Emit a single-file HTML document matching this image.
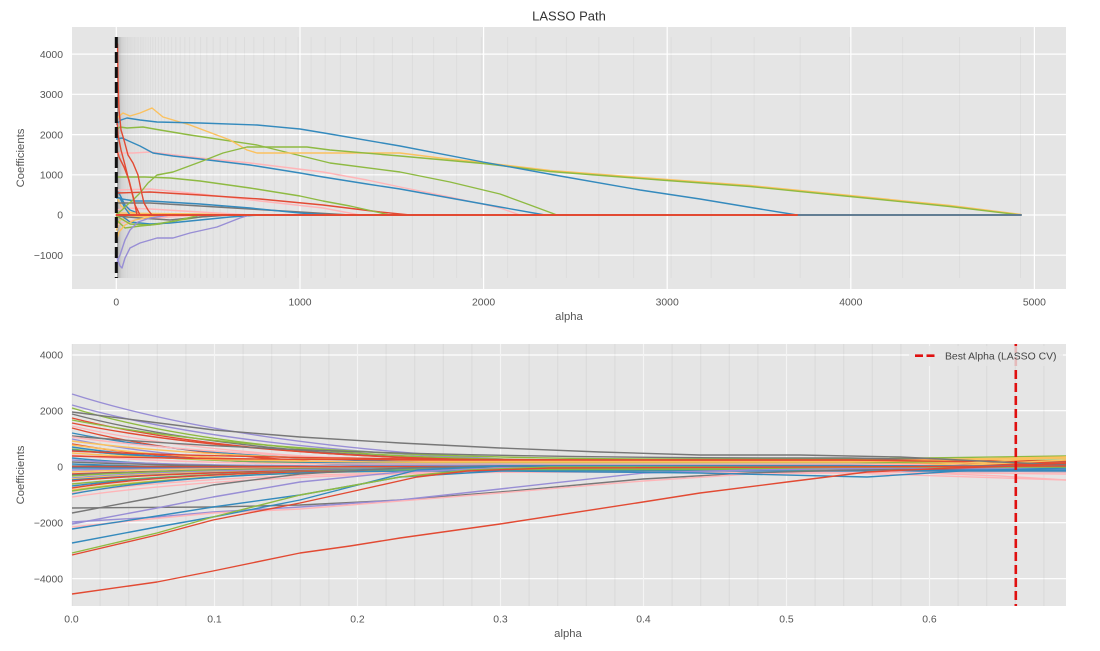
<!DOCTYPE html>
<html><head><meta charset="utf-8"><style>
html,body{margin:0;padding:0;background:#fff;}
svg{display:block;}
text{font-family:"Liberation Sans","DejaVu Sans",sans-serif;}
</style></head><body>
<svg width="1100" height="651" viewBox="0 0 1100 651" xmlns="http://www.w3.org/2000/svg">
<rect width="1100" height="651" fill="#fff"/>

<!-- ============ TOP AXES ============ -->
<rect x="72" y="27" width="994" height="262" fill="#E5E5E5"/>
<g stroke="#fff" stroke-width="1.2">
<line x1="72" x2="1066" y1="54.1" y2="54.1"/>
<line x1="72" x2="1066" y1="94.3" y2="94.3"/>
<line x1="72" x2="1066" y1="134.6" y2="134.6"/>
<line x1="72" x2="1066" y1="174.8" y2="174.8"/>
<line x1="72" x2="1066" y1="215" y2="215"/>
<line x1="72" x2="1066" y1="255.2" y2="255.2"/>
<line x1="116.3" x2="116.3" y1="27" y2="289"/>
<line x1="300" x2="300" y1="27" y2="289"/>
<line x1="483.6" x2="483.6" y1="27" y2="289"/>
<line x1="667.2" x2="667.2" y1="27" y2="289"/>
<line x1="850.8" x2="850.8" y1="27" y2="289"/>
<line x1="1034.4" x2="1034.4" y1="27" y2="289"/>
</g>
<g stroke="#000" stroke-opacity="0.035" stroke-width="1">
<line x1="1020.5" x2="1020.5" y1="37" y2="278"/><line x1="959.6" x2="959.6" y1="37" y2="278"/><line x1="902.7" x2="902.7" y1="37" y2="278"/><line x1="849.8" x2="849.8" y1="37" y2="278"/><line x1="800.2" x2="800.2" y1="37" y2="278"/><line x1="754.1" x2="754.1" y1="37" y2="278"/><line x1="711.2" x2="711.2" y1="37" y2="278"/><line x1="671.1" x2="671.1" y1="37" y2="278"/><line x1="633.7" x2="633.7" y1="37" y2="278"/><line x1="598.8" x2="598.8" y1="37" y2="278"/>
<line x1="566.3" x2="566.3" y1="37" y2="278"/><line x1="536" x2="536" y1="37" y2="278"/><line x1="507.7" x2="507.7" y1="37" y2="278"/><line x1="481.3" x2="481.3" y1="37" y2="278"/><line x1="456.7" x2="456.7" y1="37" y2="278"/><line x1="433.7" x2="433.7" y1="37" y2="278"/><line x1="412.4" x2="412.4" y1="37" y2="278"/><line x1="392.4" x2="392.4" y1="37" y2="278"/><line x1="373.9" x2="373.9" y1="37" y2="278"/><line x1="356.5" x2="356.5" y1="37" y2="278"/>
<line x1="340.3" x2="340.3" y1="37" y2="278"/><line x1="325.2" x2="325.2" y1="37" y2="278"/><line x1="311.1" x2="311.1" y1="37" y2="278"/><line x1="298.1" x2="298.1" y1="37" y2="278"/><line x1="285.8" x2="285.8" y1="37" y2="278"/><line x1="274.4" x2="274.4" y1="37" y2="278"/><line x1="263.7" x2="263.7" y1="37" y2="278"/><line x1="253.8" x2="253.8" y1="37" y2="278"/><line x1="244.5" x2="244.5" y1="37" y2="278"/><line x1="235.8" x2="235.8" y1="37" y2="278"/>
<line x1="227.7" x2="227.7" y1="37" y2="278"/><line x1="220.2" x2="220.2" y1="37" y2="278"/><line x1="213.2" x2="213.2" y1="37" y2="278"/><line x1="206.8" x2="206.8" y1="37" y2="278"/><line x1="200.6" x2="200.6" y1="37" y2="278"/><line x1="194.9" x2="194.9" y1="37" y2="278"/><line x1="189.7" x2="189.7" y1="37" y2="278"/><line x1="184.8" x2="184.8" y1="37" y2="278"/><line x1="180.2" x2="180.2" y1="37" y2="278"/><line x1="175.8" x2="175.8" y1="37" y2="278"/>
<line x1="171.7" x2="171.7" y1="37" y2="278"/><line x1="168.1" x2="168.1" y1="37" y2="278"/><line x1="164.6" x2="164.6" y1="37" y2="278"/><line x1="161.3" x2="161.3" y1="37" y2="278"/><line x1="158.3" x2="158.3" y1="37" y2="278"/><line x1="155.4" x2="155.4" y1="37" y2="278"/><line x1="152.8" x2="152.8" y1="37" y2="278"/><line x1="150.4" x2="150.4" y1="37" y2="278"/><line x1="148.1" x2="148.1" y1="37" y2="278"/><line x1="145.9" x2="145.9" y1="37" y2="278"/>
<line x1="143.8" x2="143.8" y1="37" y2="278"/><line x1="142" x2="142" y1="37" y2="278"/><line x1="140.4" x2="140.4" y1="37" y2="278"/><line x1="138.7" x2="138.7" y1="37" y2="278"/><line x1="137.2" x2="137.2" y1="37" y2="278"/><line x1="135.8" x2="135.8" y1="37" y2="278"/><line x1="134.5" x2="134.5" y1="37" y2="278"/><line x1="133.2" x2="133.2" y1="37" y2="278"/><line x1="132.1" x2="132.1" y1="37" y2="278"/><line x1="131" x2="131" y1="37" y2="278"/>
<line x1="130.1" x2="130.1" y1="37" y2="278"/><line x1="129.1" x2="129.1" y1="37" y2="278"/><line x1="128.2" x2="128.2" y1="37" y2="278"/><line x1="127.5" x2="127.5" y1="37" y2="278"/><line x1="126.8" x2="126.8" y1="37" y2="278"/><line x1="126" x2="126" y1="37" y2="278"/><line x1="125.3" x2="125.3" y1="37" y2="278"/><line x1="124.7" x2="124.7" y1="37" y2="278"/><line x1="124.2" x2="124.2" y1="37" y2="278"/><line x1="123.6" x2="123.6" y1="37" y2="278"/>
<line x1="123.1" x2="123.1" y1="37" y2="278"/><line x1="122.7" x2="122.7" y1="37" y2="278"/><line x1="122.2" x2="122.2" y1="37" y2="278"/><line x1="121.8" x2="121.8" y1="37" y2="278"/><line x1="121.4" x2="121.4" y1="37" y2="278"/><line x1="121.1" x2="121.1" y1="37" y2="278"/><line x1="120.7" x2="120.7" y1="37" y2="278"/><line x1="120.5" x2="120.5" y1="37" y2="278"/><line x1="120.2" x2="120.2" y1="37" y2="278"/><line x1="120" x2="120" y1="37" y2="278"/>
<line x1="119.7" x2="119.7" y1="37" y2="278"/><line x1="119.5" x2="119.5" y1="37" y2="278"/><line x1="119.3" x2="119.3" y1="37" y2="278"/><line x1="119.1" x2="119.1" y1="37" y2="278"/><line x1="118.9" x2="118.9" y1="37" y2="278"/><line x1="118.7" x2="118.7" y1="37" y2="278"/><line x1="118.5" x2="118.5" y1="37" y2="278"/><line x1="118.4" x2="118.4" y1="37" y2="278"/><line x1="118.2" x2="118.2" y1="37" y2="278"/><line x1="118.1" x2="118.1" y1="37" y2="278"/>
<line x1="118" x2="118" y1="37" y2="278"/><line x1="117.9" x2="117.9" y1="37" y2="278"/><line x1="117.8" x2="117.8" y1="37" y2="278"/><line x1="117.7" x2="117.7" y1="37" y2="278"/><line x1="117.6" x2="117.6" y1="37" y2="278"/><line x1="117.5" x2="117.5" y1="37" y2="278"/><line x1="117.4" x2="117.4" y1="37" y2="278"/><line x1="117.3" x2="117.3" y1="37" y2="278"/><line x1="117.3" x2="117.3" y1="37" y2="278"/><line x1="117.2" x2="117.2" y1="37" y2="278"/>
</g>

<g fill="none" stroke-width="1.4" stroke-linejoin="round" stroke-linecap="round">
<!-- small cluster near zero -->
<polyline stroke="#FBC15E" points="116.5,230 120,220 130,217 150,216 200,215"/>
<polyline stroke="#FFB5B8" points="116.5,225 125,222 140,219 170,217 200,215"/>
<polyline stroke="#8EBA42" points="116.5,220 125,228 140,226 160,224 180,220 200,217 220,215"/>
<polyline stroke="#348ABD" points="116.5,212 130,222 150,224 170,223 200,220 230,217 260,215"/>
<polyline stroke="#777777" points="116.5,216 140,218 170,220 200,217 230,215"/>
<polyline stroke="#FBC15E" points="116.5,240 119,232 125,225 135,220 150,217 170,215"/>
<polyline stroke="#FFB5B8" points="116.5,210 125,208 150,209 200,212 250,215"/>
<polyline stroke="#348ABD" points="116.5,190 120,195 125,205 130,210 140,214 150,215"/>
<polyline stroke="#8EBA42" points="116.5,216 130,224 150,225 175,221 200,215"/>
<polyline stroke="#FBC15E" points="116.5,196 121,206 130,212 145,215"/>
<polyline stroke="#FBC15E" points="116.5,213 150,213.5 200,214 240,215"/>
<polyline stroke="#348ABD" points="116.5,198 120,198 125,208 130,215"/>
<polyline stroke="#777777" points="116.5,203 150,203 200,206 250,209 300,212 350,215"/>
<polyline stroke="#348ABD" points="116.5,197 122,199 135,201 150,201 200,204 250,208 300,213 330,215"/>
<!-- purple negatives -->
<polyline stroke="#988ED5" points="117,262 120,255 125,240 130,230 138,222 150,218 170,215"/>
<polyline stroke="#988ED5" points="117,258 120,266 122,268 125,258 130,248 140,243 157,238 173,238 190,233 217,227 240,218 250,215"/>
<!-- mid lines -->
<polyline stroke="#FFB5B8" points="117,190 150,189 200,194 260,201 323,208 360,215"/>
<polyline stroke="#E24A33" points="117,193 150,192 200,195 260,199 323,205 380,212 410,215"/>
<polyline stroke="#8EBA42" points="116.5,177 125,177 145,177 170,178 200,181 250,188 300,196 323,201 350,206 390,215"/>
<polyline stroke="#FFB5B8" points="117,153 133,153 150,152 200,158 250,163 323,172 367,180 400,187 450,197 500,208 520,215"/>
<polyline stroke="#348ABD" points="116.5,139 122,138 140,146 153,153 173,156 200,159 250,165 300,173 323,177 367,184 400,189 450,198 500,207 545,215"/>
<polyline stroke="#8EBA42" points="116.5,130 120,127 127,128 143,127 160,130 190,135 257,145 330,163 400,172 450,182 500,194 530,205 557,215"/>
<!-- yellow + long olive -->
<polyline stroke="#FBC15E" points="116.5,120 118,117 123,113 130,116 140,113 152,108 163,117 190,125 230,140 247,150 257,153 330,153 400,153 440,158 483,162.5 550,170.5 667,179.5 750,185.5 850,195.5 950,205.5 1021,214.5"/>
<polyline stroke="#8EBA42" points="117,214 122,210 127,205 133,200 140,193 148,183 157,175 173,172 200,162 223,153 247,147 273,147 307,147 330,150 400,156 483,163.5 550,171.5 667,180.5 750,186.5 850,196.5 950,206.5 1021,215"/>
<polyline stroke="#348ABD" points="116.5,124 121,120 127,118 140,120 157,122 200,123 257,125 300,129 330,134 400,146 483,162 560,176 640,190 700,199 760,209 797,215"/>
<!-- steep reds -->
<polyline stroke="#E24A33" points="117.5,44 118,80 119,110 121,130 124,140 128,155 133,163 138,175 141,190 144,203 148,210 152,215"/>
<polyline stroke="#E24A33" points="117,120 118,135 121,150 125,165 130,185 135,205 140,215"/>
<polyline stroke="#E24A33" points="117,150 119,157 124,167 129,180 134,200 137,215"/>
<!-- zero line -->
<line x1="797" x2="1021" y1="215" y2="215" stroke="#627d93" stroke-width="2"/>
<line x1="116.5" x2="797" y1="215" y2="215" stroke="#E24A33" stroke-width="2"/>
</g>
<line x1="116.3" x2="116.3" y1="37" y2="278" stroke="#111" stroke-width="3" stroke-dasharray="11 4"/>

<!-- top text -->
<text x="569" y="20.5" font-size="13" fill="#333" text-anchor="middle">LASSO Path</text>
<g font-size="10.4" fill="#555" text-anchor="end">
<text x="63" y="57.8">4000</text>
<text x="63" y="98">3000</text>
<text x="63" y="138.3">2000</text>
<text x="63" y="178.5">1000</text>
<text x="63" y="218.7">0</text>
<text x="63" y="258.9">−1000</text>
</g>
<g font-size="10.4" fill="#555" text-anchor="middle">
<text x="116.3" y="305.5">0</text>
<text x="300" y="305.5">1000</text>
<text x="483.6" y="305.5">2000</text>
<text x="667.2" y="305.5">3000</text>
<text x="850.8" y="305.5">4000</text>
<text x="1034.4" y="305.5">5000</text>
</g>
<text x="569" y="320" font-size="11.3" fill="#555" text-anchor="middle">alpha</text>
<text x="24" y="158" font-size="11.3" fill="#555" text-anchor="middle" transform="rotate(-90 24 158)">Coefficients</text>

<!-- ============ BOTTOM AXES ============ -->
<rect x="72" y="344" width="994" height="262" fill="#E5E5E5"/>
<g stroke="#fff" stroke-width="1.2">
<line x1="72" x2="1066" y1="355" y2="355"/>
<line x1="72" x2="1066" y1="410.7" y2="410.7"/>
<line x1="72" x2="1066" y1="466.7" y2="466.7"/>
<line x1="72" x2="1066" y1="522.7" y2="522.7"/>
<line x1="72" x2="1066" y1="578.7" y2="578.7"/>
<line x1="214.5" x2="214.5" y1="344" y2="606"/>
<line x1="357.5" x2="357.5" y1="344" y2="606"/>
<line x1="500.5" x2="500.5" y1="344" y2="606"/>
<line x1="643.5" x2="643.5" y1="344" y2="606"/>
<line x1="786.5" x2="786.5" y1="344" y2="606"/>
<line x1="929.5" x2="929.5" y1="344" y2="606"/>
</g>
<g stroke="#000" stroke-opacity="0.045" stroke-width="1.2">
<line x1="72" x2="72" y1="344" y2="606"/><line x1="100.1" x2="100.1" y1="344" y2="606"/><line x1="128.7" x2="128.7" y1="344" y2="606"/><line x1="157.3" x2="157.3" y1="344" y2="606"/><line x1="185.9" x2="185.9" y1="344" y2="606"/><line x1="214.5" x2="214.5" y1="344" y2="606"/><line x1="243.1" x2="243.1" y1="344" y2="606"/><line x1="271.7" x2="271.7" y1="344" y2="606"/><line x1="300.3" x2="300.3" y1="344" y2="606"/><line x1="328.9" x2="328.9" y1="344" y2="606"/>
<line x1="357.5" x2="357.5" y1="344" y2="606"/><line x1="386.1" x2="386.1" y1="344" y2="606"/><line x1="414.7" x2="414.7" y1="344" y2="606"/><line x1="443.3" x2="443.3" y1="344" y2="606"/><line x1="471.9" x2="471.9" y1="344" y2="606"/><line x1="500.5" x2="500.5" y1="344" y2="606"/><line x1="529.1" x2="529.1" y1="344" y2="606"/><line x1="557.7" x2="557.7" y1="344" y2="606"/><line x1="586.3" x2="586.3" y1="344" y2="606"/><line x1="614.9" x2="614.9" y1="344" y2="606"/>
<line x1="643.5" x2="643.5" y1="344" y2="606"/><line x1="672.1" x2="672.1" y1="344" y2="606"/><line x1="700.7" x2="700.7" y1="344" y2="606"/><line x1="729.3" x2="729.3" y1="344" y2="606"/><line x1="757.9" x2="757.9" y1="344" y2="606"/><line x1="786.5" x2="786.5" y1="344" y2="606"/><line x1="815.1" x2="815.1" y1="344" y2="606"/><line x1="843.7" x2="843.7" y1="344" y2="606"/><line x1="872.3" x2="872.3" y1="344" y2="606"/><line x1="900.9" x2="900.9" y1="344" y2="606"/>
<line x1="929.5" x2="929.5" y1="344" y2="606"/><line x1="958.1" x2="958.1" y1="344" y2="606"/><line x1="986.7" x2="986.7" y1="344" y2="606"/><line x1="1015.3" x2="1015.3" y1="344" y2="606"/><line x1="1043.9" x2="1043.9" y1="344" y2="606"/>
</g>

<g fill="none" stroke-width="1.4" stroke-linejoin="round">
<path stroke="#988ED5" d="M72,394 Q295,465 741,465 L850,465 L1066,465"/>
<path stroke="#988ED5" d="M72,405 Q272,462 672,462 L850,462 L1066,462"/>
<path stroke="#8EBA42" d="M72,408 Q242,460 582,460 L850,460 L1066,458"/>
<path stroke="#777777" d="M72,414 Q252,462 612,462 L850,462 L1066,466"/>
<path stroke="#E24A33" d="M72,418 Q242,461 582,461 L1066,461"/>
<path stroke="#8EBA42" d="M72,420 Q272,459 672,459 L850,459 L1066,456"/>
<path stroke="#E24A33" d="M72,423 Q262,462 642,462 L850,462 L1066,462"/>
<path stroke="#FFB5B8" d="M72,426 Q232,463 552,463 L850,463 L1066,463"/>
<path stroke="#E24A33" d="M72,428 Q212,466 492,466 L850,466 L1066,466"/>
<path stroke="#348ABD" d="M72,433 Q222,463 522,463 L850,463 L1066,468"/>
<path stroke="#777777" d="M72,436 Q322,458 822,458 L850,458 L1066,462"/>
<path stroke="#FFB5B8" d="M72,437 Q252,462 612,462 L1066,464"/>
<path stroke="#988ED5" d="M72,439 Q202,466 462,466 L850,466 L1066,466"/>
<path stroke="#FBC15E" d="M72,441 Q222,461 522,461 L850,461 L1066,457"/>
<path stroke="#E24A33" d="M72,444 Q182,464 402,464 L850,464 L1066,464"/>
<path stroke="#FBC15E" d="M72,445 Q202,463 462,463 L1066,463"/>
<path stroke="#348ABD" d="M72,447 Q192,465 432,465 L850,465 L1066,465"/>
<path stroke="#8EBA42" d="M72,449 Q172,463 372,463 L850,463 L1066,460"/>
<path stroke="#348ABD" d="M72,450 Q212,464 492,464 L1066,467"/>
<path stroke="#E24A33" d="M72,451 Q272,460 672,460 L850,460 L1066,461"/>
<path stroke="#FBC15E" d="M72,453 Q192,462 432,462 L850,462 L1066,458"/>
<path stroke="#FFB5B8" d="M72,455 Q172,464 372,464 L850,464 L1066,466"/>
<path stroke="#E24A33" d="M72,456 Q222,460 522,460 L850,460 L1066,463"/>
<path stroke="#348ABD" d="M72,458 Q162,467 342,467 L850,467 L1066,468"/>
<path stroke="#988ED5" d="M72,460 Q172,466 372,466 L1066,466"/>
<path stroke="#777777" d="M72,462 Q192,467 432,467 L1066,467"/>
<path stroke="#348ABD" d="M72,464 Q172,468 372,468 L850,468 L1066,470"/>
<path stroke="#777777" d="M72,466 L1066,468"/>
<path stroke="#E24A33" d="M72,467 L1066,466"/>
<path stroke="#348ABD" d="M72,468 L1066,469"/>
<path stroke="#988ED5" d="M72,470 Q172,468 372,468 L1066,467"/>
<path stroke="#FBC15E" d="M72,472 Q172,468 372,468 L850,468 L1066,466"/>
<path stroke="#E24A33" d="M72,474 Q192,469 432,469 L850,469 L1066,463"/>
<path stroke="#777777" d="M72,475 Q192,468 432,468 L1066,469"/>
<path stroke="#8EBA42" d="M72,476 Q172,469 372,469 L850,469 L1066,470"/>
<path stroke="#988ED5" d="M72,478 Q182,469 402,469 L1066,469"/>
<path stroke="#FBC15E" d="M72,479 Q182,470 402,470 L850,470 L1066,457"/>
<path stroke="#348ABD" d="M72,480 Q212,469 492,469 L1066,472"/>
<path stroke="#E24A33" d="M72,481 Q192,470 432,470 L850,470 L1066,464"/>
<path stroke="#FFB5B8" d="M72,484 Q202,471 462,471 L850,471 L1066,472"/>
<path stroke="#8EBA42" d="M72,484 Q222,469 522,469 L1066,468"/>
<path stroke="#348ABD" d="M72,486 Q202,470 462,470 L850,470 L1066,470"/>
<path stroke="#E24A33" d="M72,488 Q182,471 402,471 L850,471 L1066,466"/>
<path stroke="#FBC15E" d="M72,490 Q202,471 462,471 L850,471 L1066,460"/>
<path stroke="#8EBA42" d="M72,491 Q212,470 492,470 L850,470 L1066,465"/>
<path stroke="#FFB5B8" d="M72,493 Q222,472 522,472 L850,472 L1066,474"/>
<path stroke="#348ABD" d="M72,494 Q192,471 432,471 L850,471 L1066,471"/>
<path stroke="#FFB5B8" d="M72,497 Q242,472 582,472 L850,473 L1066,480"/>
<!-- special -->
<polyline stroke="#777777" points="72,412 143,421 214,430 300,437 400,443 500,448 600,452 700,455 800,455 900,457 1000,462 1066,465"/>
<polyline stroke="#777777" points="72,513 157,497 213,485 300,474 400,468 500,466 1066,466"/>
<polyline stroke="#777777" points="72,508 213,507 300,505 400,500 500,492 643,479 750,473 850,470 1000,467 1066,467"/>
<polyline stroke="#988ED5" points="72,524 157,508 213,497 300,482 400,472 500,468 700,467 1066,466"/>
<polyline stroke="#988ED5" points="72,522 157,517 213,512 300,507 400,500 500,489 643,473 750,470 900,468 1066,468"/>
<polyline stroke="#FFB5B8" points="72,527 140,520 213,513 300,509 350,505 500,493 643,481 750,474 900,472 1000,476 1066,480"/>
<polyline stroke="#348ABD" points="72,529 157,516 213,507 300,495 400,477 500,471 600,472 700,473 867,477 960,471 1066,468"/>
<polyline stroke="#348ABD" points="72,543 157,527 213,517 300,500 350,487 417,470 500,466 1066,466"/>
<polyline stroke="#8EBA42" points="72,553 157,533 213,517 300,495 400,477 470,470 550,467 1066,467"/>
<polyline stroke="#E24A33" points="72,555 157,535 213,520 300,503 350,492 417,477 467,471 550,468 1066,466"/>
<polyline stroke="#E24A33" points="72,594 157,582 213,571 300,553 350,546 400,538 500,524 643,502 700,493 787,482 867,472 950,468 1016,466 1066,463"/>
</g>

<line x1="1015.8" x2="1015.8" y1="344" y2="606" stroke="#E01010" stroke-width="2.6" stroke-dasharray="9 4"/>
<!-- legend -->
<rect x="909" y="346" width="154" height="20" rx="2" fill="#E5E5E5" fill-opacity="0.8"/>
<line x1="915" x2="937" y1="355.7" y2="355.7" stroke="#E01010" stroke-width="2.6" stroke-dasharray="8 3.5"/>
<text x="945" y="359.4" font-size="10.4" fill="#444">Best Alpha (LASSO CV)</text>

<!-- bottom text -->
<g font-size="10.4" fill="#555" text-anchor="end">
<text x="63" y="358.7">4000</text>
<text x="63" y="414.4">2000</text>
<text x="63" y="470.4">0</text>
<text x="63" y="526.4">−2000</text>
<text x="63" y="582.4">−4000</text>
</g>
<g font-size="10.4" fill="#555" text-anchor="middle">
<text x="71.5" y="622.5">0.0</text>
<text x="214.5" y="622.5">0.1</text>
<text x="357.5" y="622.5">0.2</text>
<text x="500.5" y="622.5">0.3</text>
<text x="643.5" y="622.5">0.4</text>
<text x="786.5" y="622.5">0.5</text>
<text x="929.5" y="622.5">0.6</text>
</g>
<text x="568" y="637" font-size="11.3" fill="#555" text-anchor="middle">alpha</text>
<text x="24" y="475" font-size="11.3" fill="#555" text-anchor="middle" transform="rotate(-90 24 475)">Coefficients</text>
</svg>
</body></html>
